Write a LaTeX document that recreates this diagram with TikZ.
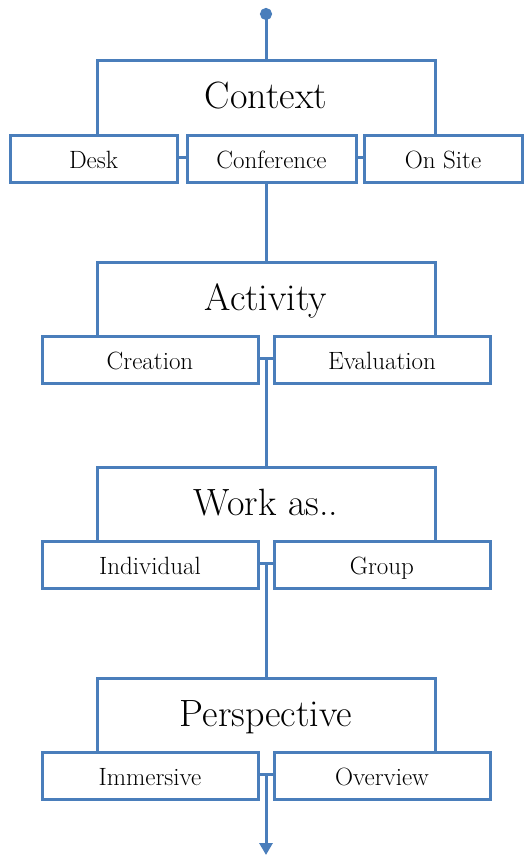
\documentclass[tikz,border=0pt]{standalone}
\usepackage{tikz}
\usetikzlibrary{arrows.meta, positioning}
\definecolor{lineblue}{RGB}{74,126,187}
\tikzset{
    group/.style={
        rectangle,
        draw=lineblue,
        line width=3pt,
        fill=white,
        minimum width=338pt,
        minimum height=96pt,
        text height=26pt,
        text depth=26pt,
        font=\fontsize{38}{44}\selectfont
    },
    choice/.style={
        rectangle,
        draw=lineblue,
        line width=3pt,
        fill=white,
        minimum height=47pt,
        inner sep=0pt,
        text height=25pt,
        text depth=5pt,
        font=\fontsize{25}{29}\selectfont
    },
    link/.style={
        draw=lineblue,
        line width=3pt
    },
}
\begin{document}
\begin{tikzpicture}[x=1pt, y=1pt]

\useasboundingbox (0,0) rectangle (530,-856);

% Context
\node[group] (ctx) at (266,-109) {Context};
\node[choice, minimum width=167pt] (desk) at ([xshift=-172.5pt]ctx.south) {Desk};
\node[choice, minimum width=169pt] (conf) at ([xshift=5.5pt]ctx.south) {Conference};
\node[choice, minimum width=158pt] (site) at ([xshift=177pt]ctx.south) {On Site};

% Activity
\node[group, below=102pt of ctx] (act) {Activity};
\node[choice, minimum width=216pt] (creat) at ([xshift=-116pt]act.south) {Creation};
\node[choice, minimum width=216pt] (eval) at ([xshift=116pt]act.south) {Evaluation};

% Work as..
\node[group, below=106pt of act] (work) {Work as..};
\node[choice, minimum width=216pt] (indiv) at ([xshift=-116pt]work.south) {Individual};
\node[choice, minimum width=216pt] (grp) at ([xshift=116pt]work.south) {Group};

% Perspective
\node[group, below=112pt of work] (persp) {Perspective};
\node[choice, minimum width=216pt] (immer) at ([xshift=-116pt]persp.south) {Immersive};
\node[choice, minimum width=216pt] (over) at ([xshift=116pt]persp.south) {Overview};

% Connectors
\coordinate (start) at (266,-8);
\coordinate (end) at (266,-855);
\draw[link, {Circle[length=12pt, width=12pt]}-] (start) -- (ctx.north);
\draw[link] (act.north |- conf.south) -- (act.north);
\draw[link] (act.south) -- (work.north);
\draw[link] (work.south) -- (persp.north);
\draw[link, -{Triangle[width=13pt, length=12pt]}] (persp.south) -- (end);

\end{tikzpicture}
\end{document}
